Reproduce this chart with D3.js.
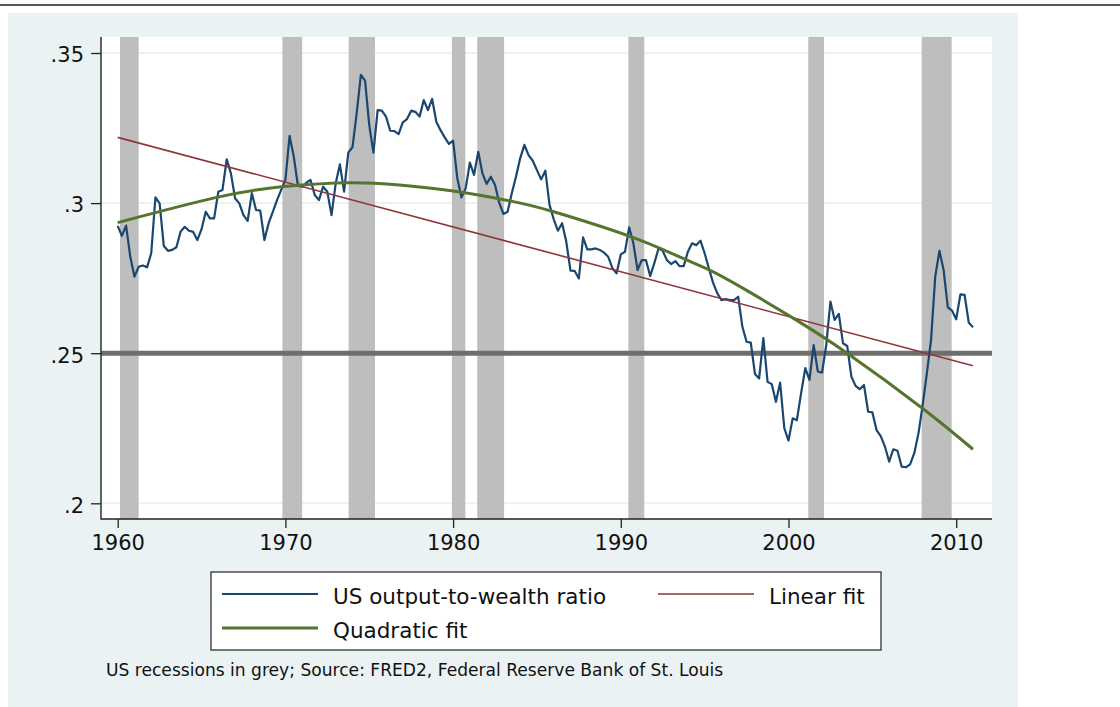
<!DOCTYPE html>
<html>
<head>
<meta charset="utf-8">
<script src="https://cdn.jsdelivr.net/npm/d3@7"></script>
<style>
  body { margin: 0; background: #fff; }
  svg { display: block; font-family: "DejaVu Sans", sans-serif; }
</style>
</head>
<body>
<script>
// quarterly series, 1960Q1 .. 2011Q1
var startYear = 1960;
var ratio = [
  0.2924, 0.2891, 0.2925, 0.2821,
  0.2755, 0.2788, 0.2792, 0.2786,
  0.2833, 0.3019, 0.2999, 0.2857,
  0.2841, 0.2844, 0.2853, 0.2905,
  0.2921, 0.2908, 0.2904, 0.2877,
  0.2913, 0.2971, 0.2949, 0.2949,
  0.3038, 0.3044, 0.3146, 0.3099,
  0.3016, 0.2999, 0.2960, 0.2941,
  0.3033, 0.2977, 0.2975, 0.2877,
  0.2933, 0.2971, 0.3010, 0.3044,
  0.3077, 0.3224, 0.3155, 0.3057,
  0.3055, 0.3068, 0.3077, 0.3027,
  0.3010, 0.3055, 0.3038, 0.2960,
  0.3066, 0.3129, 0.3038, 0.3168,
  0.3186, 0.3299, 0.3427, 0.3408,
  0.3260, 0.3168, 0.3310, 0.3308,
  0.3288, 0.3241, 0.3240, 0.3230,
  0.3269, 0.3280, 0.3308, 0.3304,
  0.3288, 0.3343, 0.3310, 0.3347,
  0.3271, 0.3243, 0.3219, 0.3197,
  0.3208, 0.3083, 0.3019, 0.3049,
  0.3135, 0.3094, 0.3171, 0.3099,
  0.3064, 0.3088, 0.3060, 0.3001,
  0.2964, 0.2971, 0.3033, 0.3088,
  0.3149, 0.3194, 0.3160, 0.3141,
  0.3110, 0.3079, 0.3108, 0.2994,
  0.2946, 0.2908, 0.2933, 0.2871,
  0.2775, 0.2774, 0.2749, 0.2886,
  0.2846, 0.2846, 0.2849, 0.2844,
  0.2835, 0.2821, 0.2783, 0.2766,
  0.2829, 0.2838, 0.2919, 0.2866,
  0.2777, 0.2810, 0.2810, 0.2757,
  0.2800, 0.2849, 0.2841, 0.2810,
  0.2797, 0.2807, 0.2790, 0.2790,
  0.2838, 0.2866, 0.2860, 0.2875,
  0.2833, 0.2783, 0.2735, 0.2700,
  0.2677, 0.2680, 0.2677, 0.2677,
  0.2688, 0.2588, 0.2538, 0.2535,
  0.2431, 0.2416, 0.2550, 0.2405,
  0.2397, 0.2338, 0.2402, 0.2250,
  0.2209, 0.2283, 0.2277, 0.2366,
  0.2450, 0.2411, 0.2527, 0.2439,
  0.2435, 0.2527, 0.2672, 0.2611,
  0.2631, 0.2533, 0.2524, 0.2422,
  0.2391, 0.2380, 0.2394, 0.2305,
  0.2303, 0.2244, 0.2224, 0.2189,
  0.2139, 0.2180, 0.2175, 0.2122,
  0.2120, 0.2130, 0.2167, 0.2233,
  0.2327, 0.2433, 0.2544, 0.2755,
  0.2841, 0.2777, 0.2653, 0.2642,
  0.2613, 0.2696, 0.2694, 0.2602,
  0.2586
];

// fitted lines
var lfitYears = [1960, 2011];
var lfitValues = [0.3219, 0.2458];
var qfitYears = [1960, 1965.9, 1969.9, 1973.9, 1976.8, 1980, 1983.6, 1986, 1990.5, 1993.5, 1995.3, 1997.3, 2000.3, 2003.5, 2008, 2011];
var qfitValues = [0.2935, 0.3019, 0.3055, 0.3068, 0.3060, 0.3040, 0.3005, 0.2971, 0.2890, 0.2821, 0.2777, 0.2716, 0.2616, 0.2500, 0.2316, 0.2180];

// recession bands [start, end]
var recStart = [1960.14, 1969.82, 1973.77, 1979.93, 1981.44, 1990.45, 2001.18, 2007.94];
var recEnd   = [1961.25, 1971.0, 1975.34, 1980.73, 1983.04, 1991.40, 2002.12, 2009.73];

var xTicks = [1960, 1970, 1980, 1990, 2000, 2010];
var yTicks = [0.2, 0.25, 0.3, 0.35];
var refLine = 0.25;

var legendLabels = ["US output-to-wealth ratio", "Linear fit", "Quadratic fit"];
var note = "US recessions in grey; Source: FRED2, Federal Reserve Bank of St. Louis";

var width = 1120, height = 707;
var plotL = 101, plotR = 992, plotT = 37, plotB = 519;

var svg = d3.select("body").append("svg")
    .attr("width", width)
    .attr("height", height);

// top rule + outer panel
svg.append("line")
    .attr("x1", 0).attr("x2", width).attr("y1", 5).attr("y2", 5)
    .attr("stroke", "#555").attr("stroke-width", 2);
svg.append("rect")
    .attr("x", 8).attr("y", 13).attr("width", 1010).attr("height", height - 13)
    .attr("fill", "#eaf2f3");
svg.append("rect")
    .attr("x", plotL).attr("y", plotT).attr("width", plotR - plotL).attr("height", plotB - plotT)
    .attr("fill", "#fff");

var x = d3.scaleLinear().domain([1960, 2010]).range([117.7, 956.2]);
var y = d3.scaleLinear().domain([0.2, 0.35]).range([503.3, 53]);

// grid
svg.selectAll(".grid").data(yTicks).enter().append("line")
    .attr("class", "grid")
    .attr("x1", plotL).attr("x2", plotR)
    .attr("y1", function(d){ return y(d); })
    .attr("y2", function(d){ return y(d); })
    .attr("stroke", "#eaf2f3").attr("stroke-width", 2);

// recessions
svg.selectAll(".rec").data(recStart).enter().append("rect")
    .attr("class", "rec")
    .attr("x", function(d){ return x(d); })
    .attr("width", function(d, i){ return x(recEnd[i]) - x(d); })
    .attr("y", plotT).attr("height", plotB - plotT)
    .attr("fill", "#bebebe");

// reference line at .25
svg.append("line")
    .attr("x1", plotL).attr("x2", plotR)
    .attr("y1", y(refLine)).attr("y2", y(refLine))
    .attr("stroke", "#6e6e6e").attr("stroke-width", 5);

var line = d3.line()
    .x(function(d){ return x(d[0]); })
    .y(function(d){ return y(d[1]); });

var series = ratio.map(function(v, i){ return [startYear + i / 4, v]; });
var lfit = lfitYears.map(function(yr, i){ return [yr, lfitValues[i]]; });
var qfit = qfitYears.map(function(yr, i){ return [yr, qfitValues[i]]; });

svg.append("path").datum(series)
    .attr("d", line)
    .attr("fill", "none").attr("stroke", "#1a476f").attr("stroke-width", 2.2)
    .attr("stroke-linejoin", "round");
svg.append("path").datum(lfit)
    .attr("d", line)
    .attr("fill", "none").attr("stroke", "#90353b").attr("stroke-width", 1.6);
svg.append("path").datum(qfit)
    .attr("d", line.curve(d3.curveNatural))
    .attr("fill", "none").attr("stroke", "#55752f").attr("stroke-width", 3);

// axes
var yAxis = d3.axisLeft(y).tickValues(yTicks).tickSize(10).tickPadding(7)
    .tickFormat(function(d){ return String(d).replace(/^0/, ""); });
var gy = svg.append("g").attr("transform", "translate(" + plotL + ",0)").call(yAxis);
gy.select(".domain").remove();
gy.selectAll("text").attr("font-size", 21).attr("font-family", "DejaVu Sans").attr("fill", "#111").attr("dy", "0.42em");
gy.selectAll("line").attr("stroke", "#222").attr("stroke-width", 1.3);

var xAxis = d3.axisBottom(x).tickValues(xTicks).tickSize(9).tickPadding(7).tickFormat(d3.format("d"));
var gx = svg.append("g").attr("transform", "translate(0," + plotB + ")").call(xAxis);
gx.select(".domain").remove();
gx.selectAll("text").attr("font-size", 21).attr("font-family", "DejaVu Sans").attr("fill", "#111");
gx.selectAll("line").attr("stroke", "#222").attr("stroke-width", 1.3);

svg.append("path")
    .attr("d", "M" + plotL + "," + plotT + "V" + plotB + "H" + plotR)
    .attr("fill", "none").attr("stroke", "#222").attr("stroke-width", 1.4);

// legend
var leg = svg.append("g");
leg.append("rect")
    .attr("x", 211).attr("y", 572).attr("width", 670).attr("height", 78)
    .attr("fill", "#fff").attr("stroke", "#222").attr("stroke-width", 1.2);

var legItems = [
  {x: 222, y: 594, color: "#1a476f", w: 2.2},
  {x: 658, y: 594, color: "#90353b", w: 1.6},
  {x: 222, y: 628, color: "#55752f", w: 3}
];
legItems.forEach(function(it, i){
    leg.append("line")
        .attr("x1", it.x).attr("x2", it.x + 96)
        .attr("y1", it.y).attr("y2", it.y)
        .attr("stroke", it.color).attr("stroke-width", it.w);
    leg.append("text")
        .attr("x", it.x + 111).attr("y", it.y + 10)
        .attr("font-size", 21.5).attr("fill", "#111")
        .text(legendLabels[i]);
});

svg.append("text")
    .attr("x", 106).attr("y", 676)
    .attr("font-size", 17.1).attr("fill", "#111")
    .text(note);
</script>
</body>
</html>
